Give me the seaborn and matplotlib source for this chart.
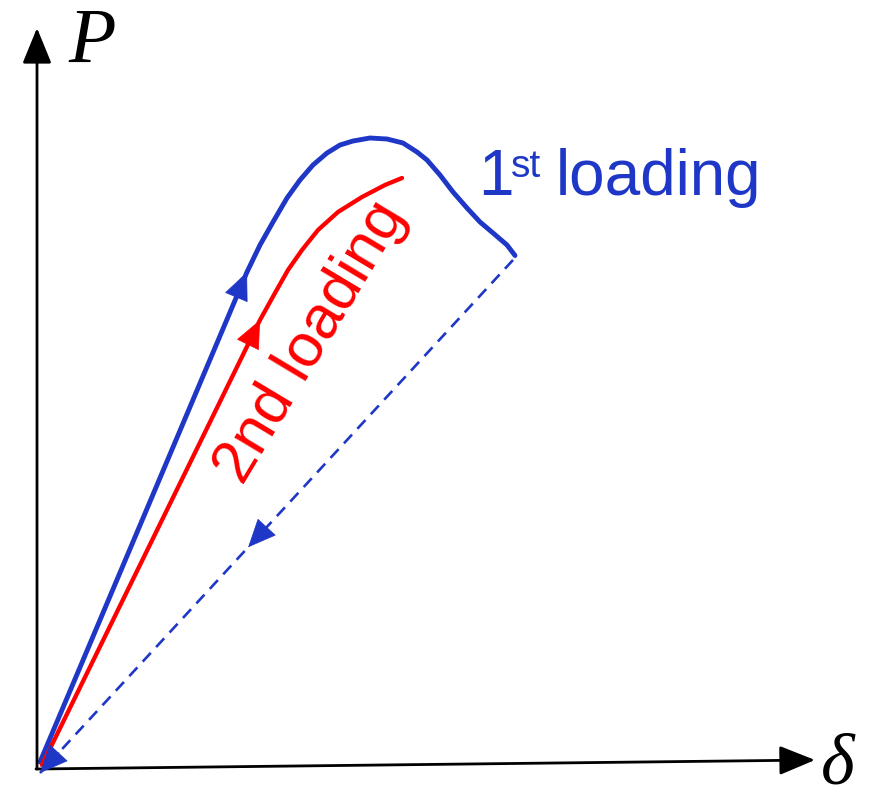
"""
Load-displacement sketch: first loading, unloading and second loading paths.
"""

import numpy as np
import seaborn as sns
import matplotlib.pyplot as plt

sns.set_theme(style='white')
plt.rcParams['font.family'] = ['Liberation Sans', 'DejaVu Sans']

# curve values (delta, P)
first_delta = [3, 210, 223, 236, 250, 263, 276, 290, 303, 316, 333, 350,
               366, 380, 390, 403, 416, 430, 443, 456, 470, 478, 478]
first_load = [6, 496, 523, 546, 570, 588, 603, 615, 623, 627, 630, 629,
              625, 616, 608, 593, 576, 560, 546, 535, 523, 515, 510]
second_delta = [5, 223, 238, 251, 265, 281, 301, 325, 348, 365]
second_load = [3, 448, 475, 498, 518, 538, 556, 571, 583, 590]
unload_delta = [476, 3]
unload_load = [508, -5]

BLUE = '#1f37c6'
RED = '#ff0000'


def head(ax, tip, towards, color, length=28, mscale=20, hl=0.95, hw=0.42):
    """Draw an arrow head at tip, pointing away from the point towards."""
    tip = np.array(tip, dtype=float)
    d = np.array(towards, dtype=float) - tip
    tail = tip + d / np.linalg.norm(d) * length
    ax.annotate('', xy=tip, xytext=tail,
                arrowprops=dict(arrowstyle=f'-|>,head_length={hl},'
                                f'head_width={hw}',
                                color=color, lw=0.5, shrinkA=0, shrinkB=0,
                                mutation_scale=mscale))


def main():
    fig = plt.figure(figsize=(8.76, 7.99), dpi=100)
    ax = fig.add_axes([0, 0, 1, 1])
    ax.set_xlim(-37, 839)
    ax.set_ylim(-31, 768)
    ax.axis('off')

    # axes as arrows
    arrow = dict(arrowstyle='-|>,head_length=1.1,head_width=0.45',
                 color='black', lw=2.0, shrinkA=0, shrinkB=0,
                 mutation_scale=20)
    ax.annotate('', xy=(0, 740), xytext=(0, -1), arrowprops=arrow)
    ax.annotate('', xy=(778, 8), xytext=(-1, -1), arrowprops=arrow)

    sns.lineplot(x=first_delta, y=first_load, sort=False, color=BLUE,
                 solid_joinstyle='round', ax=ax)
    sns.lineplot(x=second_delta, y=second_load, sort=False, color=RED,
                 solid_joinstyle='round', ax=ax)
    sns.lineplot(x=unload_delta, y=unload_load, sort=False, color=BLUE,
                 ax=ax)
    blue_line, red_line, dash_line = ax.lines[:3]
    blue_line.set_linewidth(3.5)
    red_line.set_linewidth(3.1)
    dash_line.set_linewidth(1.9)
    dash_line.set_linestyle((0, (4.5, 3)))

    # direction heads
    head(ax, (first_delta[1], first_load[1]),
         (first_delta[0], first_load[0]), BLUE)
    head(ax, (second_delta[1], second_load[1]),
         (second_delta[0], second_load[0]), RED)
    start = np.array([unload_delta[0], unload_load[0]], dtype=float)
    end = np.array([unload_delta[1], unload_load[1]], dtype=float)
    mid = start + 0.56 * (end - start)
    head(ax, mid, start, BLUE)
    head(ax, end, start, BLUE)

    # labels
    ax.text(441, 573, '1', color=BLUE, fontsize=46, ha='left',
            va='baseline')
    ax.text(474, 591, 'st', color=BLUE, fontsize=28, ha='left',
            va='baseline')
    ax.text(519, 573, 'loading', color=BLUE, fontsize=46, ha='left',
            va='baseline')
    ax.text(274, 425, '2nd loading', color=RED, fontsize=44, rotation=59,
            ha='center', va='center')
    ax.text(31, 706, 'P', fontsize=56, family='Liberation Serif',
            style='italic', color='black', ha='left', va='baseline')
    ax.text(784, -15, '\u03b4', fontsize=52, family='Liberation Serif',
            style='italic', color='black', ha='left', va='baseline')

    fig.savefig('out.png', dpi=100)


if __name__ == '__main__':
    main()
